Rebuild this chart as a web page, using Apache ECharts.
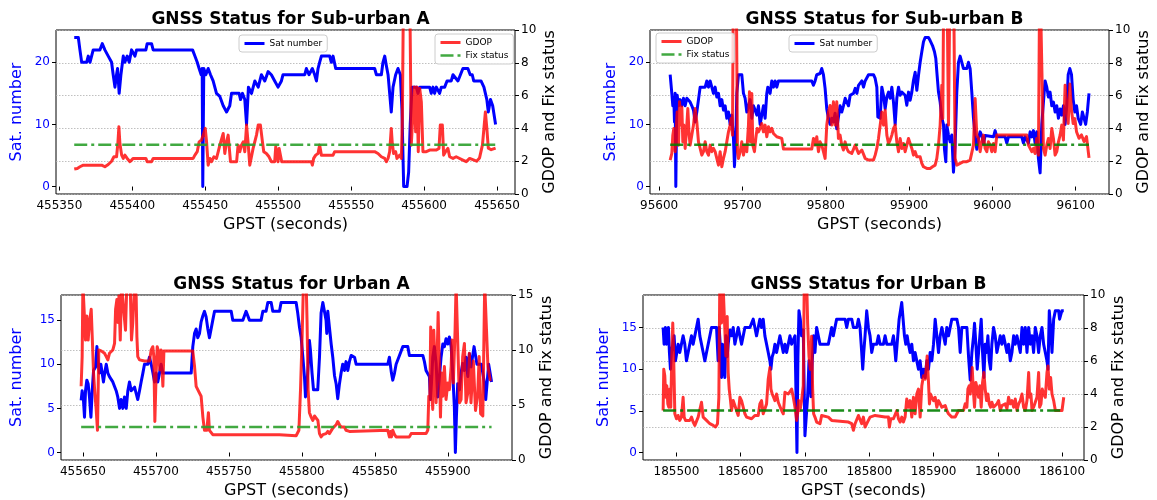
<!DOCTYPE html>
<html>
<head>
<meta charset="utf-8">
<script src="https://cdn.jsdelivr.net/npm/echarts@6/dist/echarts.min.js"></script>
<style>html,body{margin:0;padding:0;background:#fff}#c{width:1157px;height:500px}</style>
</head>
<body>
<div id="c"></div>
<script>
// ---------- DATA ----------
const titles = ['GNSS Status for Sub-urban A','GNSS Status for Sub-urban B','GNSS Status for Urban A','GNSS Status for Urban B'];

const suburbanA_xticks = [455350,455400,455450,455500,455550,455600,455650];
const suburbanB_xticks = [95600,95700,95800,95900,96000,96100];
const urbanA_xticks = [455650,455700,455750,455800,455850,455900];
const urbanB_xticks = [185500,185600,185700,185800,185900,186000,186100];
const suburban_satTicks = [0,10,20];
const urban_satTicks = [0,5,10,15];

const suburbanA_sat = [[455360.2,24],[455363,24],[455364.1,22],[455365.3,20],[455368.7,20],[455369.8,21],[455371,20],[455372.1,21],[455373.2,22],[455377.8,22],[455379.4,23],[455381.2,22],[455383.5,21],[455385.8,20],[455386.9,18],[455388.1,16],[455389.2,18],[455389.9,19],[455391,15],[455392.2,18],[455393.8,21],[455394.9,20],[455396.5,21],[455397.9,20],[455399.5,22],[455401.8,21],[455402.9,22],[455409.3,22],[455410.2,23],[455413.2,23],[455414.3,22],[455441.3,22],[455442.9,21],[455444.5,20],[455445.8,19],[455447.2,18],[455447.9,19],[455448.3,0],[455449,19],[455450.4,18],[455452,19],[455453.6,18],[455455.4,17],[455457.7,15],[455460,14.5],[455462.3,13],[455464.6,12],[455466.8,13],[455468,15],[455473.2,15],[455474.2,14],[455475.5,15],[455477.1,14],[455478.3,10],[455479.6,16],[455481.7,15],[455484,17],[455486.3,16],[455488.5,18],[455490.8,17],[455493.1,18.5],[455495.3,18],[455497.6,17],[455499.9,16],[455502.2,17],[455503.3,18],[455518.2,18],[455519.3,19],[455521.1,18],[455523.4,19],[455525,18],[455526.2,17],[455527.3,19],[455528.4,20],[455529.6,21],[455535.3,21],[455536.4,20],[455537.6,21],[455539.4,19],[455566.1,19],[455567.3,18],[455570.7,18],[455571.8,20],[455573,21],[455574.1,19.5],[455575.3,18],[455576.4,15],[455577.5,12],[455578.7,16],[455580.5,18],[455582.1,19],[455583.7,18],[455584.8,12.5],[455586,0],[455588.3,0],[455589.4,2.3],[455590.5,10],[455591.7,16],[455594.7,16],[455595.8,15],[455597,16],[455603.8,16],[455604.9,15],[455606.1,16],[455607.2,15],[455608.4,16],[455610.6,15],[455611.8,16],[455614.1,16],[455615.7,17],[455618.6,17],[455619.8,18],[455623.2,17],[455626.6,19],[455630,19],[455631.6,18],[455633,18],[455634,17],[455639,17],[455641,16],[455642,15],[455643,14],[455644,12],[455645.5,14],[455647,13],[455649,10]];

const suburbanA_gdop = [[455360.2,1.52],[455362.3,1.56],[455364.1,1.66],[455366.4,1.76],[455368.7,1.76],[455369.8,1.87],[455371,1.76],[455379,1.76],[455381.2,1.66],[455383.5,1.8],[455385.8,2.0],[455387.4,2.27],[455389.2,2.27],[455390.1,3.08],[455390.8,4.1],[455391.5,3.08],[455392.7,2.37],[455393.8,2.17],[455394.9,2.37],[455396.5,2.17],[455398.4,1.97],[455400.6,2.17],[455409.3,2.17],[455410.2,1.97],[455413.2,1.97],[455414.3,2.17],[455441.7,2.17],[455442.9,2.37],[455444.5,2.58],[455445.8,3.18],[455447.4,3.29],[455448.6,3.59],[455450,4.0],[455450.9,3.18],[455452,1.76],[455453.2,2.17],[455454.3,1.97],[455455.9,2.27],[455457.7,2.17],[455458.9,2.58],[455460,2.98],[455461.1,2.98],[455462.3,3.69],[455463.4,2.47],[455464.6,3.18],[455465.7,3.59],[455466.4,3.69],[455467.3,1.97],[455471.5,1.97],[455472.5,2.98],[455473.7,2.58],[455474.8,2.98],[455476,3.18],[455477.1,2.58],[455478.3,4.2],[455479.4,3.08],[455480.5,1.76],[455482.8,2.78],[455485.1,3.59],[455486.3,4.2],[455487.8,4.2],[455489.2,3.18],[455490.1,2.58],[455491.9,2.47],[455493.7,2.27],[455495.3,1.97],[455497.6,1.97],[455498.3,2.88],[455499.2,2.88],[455499.9,1.97],[455500.6,2.78],[455501.5,2.88],[455502.4,1.97],[455522.7,1.97],[455523.4,1.76],[455524.3,2.17],[455525.7,2.37],[455527.3,2.47],[455528.4,2.98],[455529.6,2.37],[455537.6,2.37],[455538.7,2.58],[455566.1,2.58],[455568.4,2.47],[455570.7,2.27],[455573,2.17],[455574.1,1.97],[455575.3,2.17],[455576.4,2.58],[455577.5,4.0],[455578.2,3.08],[455579.1,2.47],[455580.5,2.58],[455581.4,2.17],[455583.2,2.37],[455584.4,2.17],[455585.1,4.6],[455586,14],[455590,14],[455591.2,2.98],[455593.3,6.53],[455594.2,3.79],[455595.1,6.53],[455596,2.58],[455597,6.43],[455598.1,5.62],[455599.2,2.58],[455601.5,2.58],[455603.8,2.68],[455608.4,2.68],[455610.2,2.78],[455611.1,4.2],[455612.5,4.2],[455613.4,2.37],[455614.7,2.58],[455616.3,2.78],[455617.5,2.27],[455619.8,2.17],[455622,2.27],[455626.6,2.07],[455627.8,2.17],[455628.9,1.97],[455631.2,2.17],[455636,2.0],[455638,2.2],[455640,3.0],[455642,5.0],[455643,4.0],[455644,2.8],[455646,2.7],[455649,2.8]];

const suburbanA_fix = [[455360.2,3],[455649,3]];

const suburbanB_sat = [[95613.2,18],[95615.2,15],[95616.4,13],[95617.6,14],[95618.4,10.4],[95619.2,15],[95620,0],[95620.8,10],[95621.6,14.7],[95623.2,13],[95625.2,14],[95627.2,13],[95629.2,14.2],[95631.2,13],[95633.2,14.2],[95635.2,14.4],[95637.2,13.6],[95639.2,13],[95641.2,12.3],[95643.2,10.4],[95645.2,12],[95647.2,14],[95649.2,16],[95651.2,15.8],[95655.2,16],[95657.2,17],[95659.2,16],[95661.2,17],[95663.2,16],[95665.2,15],[95667.2,16],[95669.2,14.4],[95671.2,15],[95673.2,13],[95675.2,14],[95677.2,12.3],[95679.2,13],[95681.2,11],[95683.2,12],[95685.2,10],[95687.2,11.5],[95689.2,7.7],[95690.4,3.2],[95692,7.7],[95693.2,15],[95695.2,18],[95699.2,18],[95701.2,15],[95703.2,14.2],[95705.2,12],[95707.2,13],[95709.2,14],[95711.2,11],[95713.2,13],[95715.2,12.3],[95717.2,11.5],[95719.2,13],[95721.2,10],[95723.2,11.5],[95725.2,13],[95727.2,11],[95729.2,15],[95730.4,16],[95733.2,15],[95735.2,17],[95737.2,16],[95739.2,17],[95741.2,16],[95743.2,17],[95783.2,17],[95785.2,16.3],[95787.2,17],[95789.2,18],[95793.2,18.2],[95795.2,19],[95797.2,18],[95799.2,15.8],[95801.2,12.5],[95803.2,11],[95805.2,10],[95807.2,11],[95809.2,10.4],[95811.2,11.8],[95813.2,9.3],[95815.2,11.2],[95817.2,13],[95819.2,12],[95821.2,13],[95823.3,14.2],[95827.3,13],[95829.3,14.7],[95833.3,15],[95835.3,15.8],[95837.3,15],[95839.3,16.3],[95843.3,17],[95845.3,16],[95847.3,17],[95851.3,18],[95857.3,18],[95859.3,17.4],[95861.3,16],[95862.5,11.2],[95865.3,11],[95867.3,16],[95869.3,14.7],[95871.3,12.5],[95873.3,14.4],[95875.3,15.2],[95877.3,14.2],[95879.3,16],[95881.3,13.6],[95883.3,10],[95885.3,14.2],[95887.3,16],[95889.3,14.7],[95891.3,15.2],[95895.3,14.7],[95897.3,13.1],[95899.3,15.2],[95901.3,13.9],[95903.3,15.2],[95905.3,17.1],[95907.3,18.4],[95909.3,15.5],[95911.3,17.9],[95913.3,20],[95915.3,21.7],[95917.3,23.3],[95919.3,24],[95923.3,24],[95925.3,23.5],[95928.1,22.7],[95930.5,21.7],[95932.1,20.6],[95933.3,18.5],[95935.3,15.2],[95937.3,13.6],[95939.3,11],[95941.3,10],[95942.5,6],[95944.1,4],[95945.3,9.9],[95947.3,8.3],[95949.3,7.2],[95951.3,8.3],[95953.3,2.3],[95955.3,6.6],[95957.3,15.2],[95959.3,20],[95961.3,21],[95963.3,20],[95965.3,19],[95969.3,19],[95971.3,20],[95973.3,19],[95975.3,15.2],[95977.3,11],[95979.3,8.2],[95981.3,6],[95983.3,7.8],[95985.3,8.8],[95987.3,8.2],[95989.3,6.9],[95991.3,8.2],[96001.3,8],[96003.3,9],[96005.3,8],[96015.3,8],[96017.3,7],[96019.3,8],[96035.3,8],[96037.3,7],[96039.3,8],[96043.3,7],[96045.3,8.8],[96047.3,8],[96049.3,9],[96051.3,7],[96053.3,8.8],[96055.3,4.5],[96057.3,2.2],[96059.3,10],[96061.3,13.6],[96063.3,17],[96065.3,16],[96067.3,14.4],[96069.3,15.2],[96071.3,13],[96073.3,13.6],[96075.3,12],[96077.3,13],[96079.3,11],[96081.3,12.5],[96083.3,11.5],[96085.3,13],[96087.3,10],[96089.3,13],[96091,18],[96093,19],[96095,18],[96097,14],[96099,12],[96101,13],[96103,11],[96106,10],[96108,12],[96110,11],[96112,10],[96114,12],[96116,15]];

const suburbanB_gdop = [[95613.2,2.07],[95615.2,2.47],[95616.4,3.59],[95617.6,4.0],[95618.4,3.18],[95619.2,2.58],[95620.4,3.79],[95621.6,5.0],[95623.2,2.98],[95624.4,5.62],[95626,4.2],[95627.2,5.31],[95628.4,3.18],[95629.6,4.2],[95631.2,2.78],[95633.2,4.2],[95634.4,5.21],[95636,3.59],[95637.2,2.98],[95639.2,3.59],[95641.2,4.2],[95643.2,5.21],[95645.2,4.4],[95647.2,3.18],[95649.2,2.78],[95651.2,2.37],[95653.2,2.58],[95655.2,3.18],[95657.2,2.58],[95659.2,2.37],[95661.2,2.98],[95663.2,2.58],[95665.2,2.78],[95667.2,2.58],[95669.2,2.17],[95671.2,1.76],[95673.2,2.58],[95675.2,1.66],[95677.2,2.17],[95679.2,2.58],[95681.2,3.18],[95683.2,3.79],[95685.2,4.2],[95686.4,4.6],[95688,3.59],[95689.2,14],[95692.4,14],[95694,2.58],[95695.2,2.17],[95697.2,2.58],[95699.2,3.18],[95701.2,2.37],[95703.2,2.98],[95705.2,2.58],[95707.2,4.2],[95708.4,6.23],[95709.6,3.18],[95711.2,6.13],[95712.4,2.98],[95714.4,2.58],[95716,3.39],[95717.6,4.0],[95719.2,3.79],[95721.2,4.0],[95723.2,4.3],[95725.2,3.79],[95727.2,4.2],[95729.2,3.49],[95731.2,4.1],[95733.2,3.79],[95735.2,4.0],[95737.2,3.69],[95739.2,3.79],[95741.2,3.49],[95743.2,3.59],[95747.2,3.39],[95749.2,2.74],[95783.2,2.74],[95785.2,3.39],[95787.2,2.98],[95789.2,3.49],[95791.2,2.58],[95793.2,3.18],[95795.2,2.98],[95797.2,2.58],[95799.2,2.17],[95801.2,4.2],[95803.2,5.0],[95805.2,5.4],[95807.2,4.2],[95809.2,5.62],[95811.2,4.2],[95813.2,5.62],[95815.2,3.39],[95817.2,3.59],[95819.2,2.98],[95821.2,2.68],[95823.2,3.18],[95825.2,2.78],[95827.2,2.58],[95831.2,2.47],[95835.3,2.98],[95839.3,2.47],[95843.3,2.68],[95847.3,2.17],[95851.3,2.07],[95857.3,2.07],[95859.3,2.37],[95861.3,2.78],[95863.3,3.39],[95865.3,4.2],[95867.3,5.0],[95869.3,4.2],[95871.3,5.11],[95873.3,3.59],[95875.3,3.08],[95877.3,3.29],[95879.3,3.59],[95881.3,4.0],[95883.3,4.2],[95885.3,3.18],[95887.3,2.58],[95889.3,3.39],[95891.3,2.78],[95893.3,3.08],[95895.3,2.58],[95897.3,2.98],[95899.3,3.39],[95901.3,3.08],[95903.3,2.78],[95905.3,2.37],[95907.3,2.58],[95909.3,2.27],[95913.3,2.27],[95915.3,1.87],[95917.3,1.66],[95921.3,1.56],[95925.3,1.56],[95928.1,1.66],[95931.3,1.76],[95933.3,2.17],[95935.3,2.98],[95937.3,4.2],[95939.3,6.63],[95940.5,4.6],[95941.7,14],[95945.3,14],[95947.3,4.2],[95949.3,14],[95953.3,14],[95955.3,2.17],[95957.3,1.76],[95961.3,1.87],[95965.3,1.97],[95969.3,1.97],[95973.3,2.07],[95975.3,2.17],[95977.3,2.98],[95979.3,5.82],[95981.3,3.59],[95983.3,3.39],[95985.3,2.58],[95987.3,3.18],[95989.3,3.59],[95991.3,2.78],[95993.3,2.58],[95995.3,3.18],[95997.3,2.98],[95999.3,2.58],[96001.3,3.08],[96003.3,2.58],[96005.3,3.59],[96041.3,3.59],[96043.3,2.98],[96047.3,2.58],[96049.3,2.78],[96051.3,2.47],[96053.3,3.39],[96055.3,2.37],[96056.9,14],[96059.3,14],[96061.3,2.78],[96063.3,2.37],[96065.3,2.98],[96067.3,3.39],[96069.3,2.78],[96071.3,3.99],[96073.3,3.39],[96075.3,2.37],[96077.3,2.58],[96079.3,3.18],[96081.3,3.59],[96083.3,4.2],[96085.3,3.29],[96087.3,6.63],[96089.3,5.2],[96091,4.3],[96093,6.7],[96095,5.1],[96097,4.3],[96099,4.6],[96101,3.8],[96104,3.4],[96107,3.6],[96110,3.2],[96113,3.5],[96116,2.2]];

const suburbanB_fix = [[95613.2,3],[96116,3]];

const urbanA_sat = [[455648.8,5.9],[455649.5,7],[455650.4,5.9],[455651.1,4],[455651.8,7],[455652.7,8.2],[455653.6,7.8],[455654.5,6.3],[455655.5,4],[455656.4,7],[455657.3,9.3],[455658.7,9.7],[455659.6,12],[455660.5,10.1],[455661.4,9],[455662.3,10],[455663.2,9],[455664.1,8],[455665,9.1],[455666,10],[455667.1,9],[455668.2,8.6],[455669.4,8.8],[455670.5,8],[455671.7,8],[455672.8,7],[455673.9,6.3],[455675.1,5],[455676.2,6],[455677.4,5],[455678.5,6.3],[455679.7,5],[455680.8,7],[455681.9,8],[455683.1,7],[455684.2,7],[455685.4,7.4],[455686.5,6.7],[455687.6,6],[455688.8,7],[455689.9,8],[455691.1,9],[455692.2,10],[455694.5,10],[455695.6,10.8],[455696.8,10],[455697.9,9.1],[455699.1,8],[455700.2,9],[455701.3,8],[455702.5,9],[455703.6,10],[455704.8,9],[455724.2,9],[455725.3,12],[455726.5,13.5],[455727.6,14],[455728.7,13],[455729.9,13.5],[455731,14.8],[455732.2,15.5],[455733.3,16],[455734.4,15.4],[455735.6,14],[455736.7,13],[455737.9,13],[455739,15],[455740.2,16],[455751.6,16],[455752.7,15],[455759.6,15],[455760.7,15.5],[455761.8,16],[455763,16],[455764.1,15],[455772.1,15],[455773.3,16],[455775.5,16],[455776.7,17],[455779,17],[455780.1,16],[455784.7,16],[455785.8,17],[455796.1,17],[455797.2,15.8],[455798.4,14.2],[455799.5,13.1],[455800.7,10.8],[455801.8,8.6],[455802.5,6.3],[455803.4,7.4],[455804.3,9.7],[455805.2,12.7],[455805.9,11.6],[455807,9],[455808,7.1],[455810.9,7.1],[455812.1,10.8],[455813.2,15.8],[455814.4,17],[455815.7,17],[455816.6,15],[455817.1,13.5],[455817.8,16],[455818.9,14.2],[455820.1,12.3],[455821.2,10.8],[455822.4,8.7],[455823.5,7.8],[455824.6,6.1],[455825.8,7.8],[455826.9,9],[455828,10],[455829.2,9.3],[455830.3,10.3],[455831.5,9.3],[455832.6,10.3],[455833.8,11],[455834.9,11],[455836.1,10.8],[455837.2,10],[455858.9,10],[455860,10.8],[455860.7,11],[455861.4,9],[455862.3,8.2],[455863.5,9],[455864.6,10],[455866.9,11],[455868,11],[455869.2,12],[455872.6,12],[455873.7,11],[455882.9,11],[455884,10.3],[455885.1,9.3],[455886.3,9.3],[455887.4,8.6],[455888.1,6],[455888.8,7.8],[455889.7,10.8],[455890.8,12],[455892,10.1],[455893.1,6.3],[455894.3,8.6],[455895.4,10.8],[455896.6,12.3],[455897.7,12],[455898.8,12.9],[455900,12.3],[455901.1,13.1],[455902.3,12],[455903.4,9],[455904.5,5.2],[455905.2,0],[455905.9,4],[455906.8,7.8],[455908,7.1],[455909.1,9],[455910.2,10.1],[455911.4,9.3],[455912.5,10.8],[455913.7,8.6],[455914.8,11.2],[455915.9,9.7],[455918,12],[455920,10],[455923,10],[455925,8],[455926,6],[455927,8],[455928,10],[455929,9],[455930,8]];

const urbanA_gdop = [[455648.8,6.7],[455649.5,9.4],[455650,16],[455651.1,16],[455651.8,10.9],[455652.7,13.1],[455653.6,10.9],[455654.5,12.5],[455655.7,13.7],[455656.4,11.2],[455657.3,7.9],[455658.2,6.1],[455659.1,4.6],[455660,2.7],[455660.9,10],[455661.8,9.9],[455662.8,9.9],[455663.7,10],[455664.8,9.7],[455666,9.4],[455667.1,9.1],[455668.2,9.7],[455669.4,9.6],[455670.5,10],[455671.7,10.6],[455672.4,13.7],[455673.3,14.6],[455674,12.5],[455674.7,14.9],[455675.6,10.9],[455676.5,16],[455677.4,16],[455678.3,13.1],[455679.2,11.8],[455680.1,16],[455682.4,16],[455683.3,10.9],[455684.2,12.5],[455685.4,16],[455686.5,14.9],[455687,11.2],[455687.6,9.4],[455688.8,9.1],[455689.9,9.0],[455692.2,9.0],[455693.4,9.1],[455695.6,9.0],[455696.8,10],[455697.9,10.3],[455698.6,9.4],[455699.3,3.5],[455700.2,7.9],[455700.9,10.3],[455701.8,9.9],[455702.7,8.2],[455703.6,10],[455704.8,6.7],[455705.5,9.9],[455725.3,9.9],[455726.5,8.5],[455727.6,6.7],[455728.7,6.4],[455729.9,6.5],[455731,5.8],[455732.2,3.9],[455733.3,2.7],[455734.9,2.7],[455736,4.3],[455736.7,2.7],[455737.9,2.6],[455739,2.3],[455772.1,2.3],[455773.3,2.2],[455784.7,2.3],[455785.8,2.2],[455796.1,2.2],[455798,2.7],[455799.1,6.4],[455800.2,11.2],[455801.1,16],[455803,16],[455803.6,12.5],[455804.3,6.4],[455805.2,4.3],[455806.4,3.9],[455807.5,3.6],[455808.7,4.0],[455809.8,4.0],[455811,3.6],[455812.1,2.4],[455813.2,2.1],[455814.4,2.3],[455815.5,2.4],[455816.6,2.4],[455817.8,2.6],[455818.9,2.4],[455821.2,2.9],[455823.5,3.2],[455824.6,3.5],[455825.8,3.2],[455826.9,3.0],[455828,2.9],[455829.2,3.0],[455830.3,2.7],[455832.6,2.6],[455833.8,2.7],[455858.9,2.7],[455860,2.1],[455860.7,2.6],[455861.4,2.1],[455862.3,2.7],[455863.5,2.3],[455864.6,2.1],[455873.7,2.1],[455874.9,2.4],[455885.1,2.4],[455886.3,2.7],[455887,5.8],[455887.7,5.5],[455888.3,12.1],[455889,6.4],[455889.7,4.6],[455890.4,11.8],[455891.1,9.4],[455892,5.2],[455892.7,9.4],[455893.4,13.4],[455894.3,7.9],[455895,3.9],[455895.7,7.9],[455896.6,5.8],[455897.7,8.5],[455898.8,5.5],[455900,7.0],[455901.1,6.4],[455902.3,8.5],[455902.9,10.9],[455903.8,7.0],[455905,11.8],[455905.7,16],[455906.4,16],[455907.1,9.4],[455908,5.2],[455909.1,5.5],[455910.2,9.4],[455911.4,10.6],[455912.5,5.2],[455913.7,6.1],[455914.8,9.7],[455915.9,5.2],[455917.5,9],[455919,4.5],[455920.5,6],[455921.5,9.4],[455922.5,4.2],[455924,4],[455925.3,16],[455926.5,16],[455927.5,8.5],[455929,7.3],[455930,7.3]];

const urbanA_fix = [[455648.8,3],[455930,3]];

const urbanB_sat = [[185479.3,15],[185480.8,13],[185482.9,15],[185484.5,13],[185486,14],[185487.6,15],[185489.1,12],[185490.7,10],[185492.3,12],[185494.3,13],[185496.4,14],[185498.5,11],[185500.6,12],[185502.6,13],[185505.2,12],[185507.8,13],[185510.4,14],[185513,13],[185515.6,11],[185518.2,12],[185520.8,13],[185523.4,14],[185526,13],[185528.6,14],[185531.2,15],[185533.8,16],[185536.4,14],[185539,13],[185541.6,12],[185544.2,11],[185546.8,12],[185549.4,13],[185552,14],[185554.6,15],[185562.4,15],[185564.9,11],[185566.5,15],[185568.1,13],[185570.1,9],[185571.7,13],[185573.8,10],[185575.3,9],[185576.9,14],[185579,11.5],[185580.5,13],[185583.1,14.7],[185585.7,14],[185588.3,15],[185590.9,13],[185593.5,14],[185596.1,15],[185598.7,14],[185601.3,13],[185603.9,14],[185606.5,15],[185614.3,15],[185619.5,16],[185622,15],[185624.6,14],[185627.2,15],[185629.8,16],[185632.4,15],[185635,16],[185637.6,14],[185640.2,13],[185642.8,12],[185645.4,11],[185647,10],[185649,11.5],[185651.1,12],[185653.2,13],[185655.8,12],[185658.4,13],[185661,14],[185663.6,13],[185666.2,12],[185668.8,13],[185671.4,12],[185674,13],[185676.6,14],[185679.2,13],[185681.8,13],[185684.4,14],[185685.9,7.5],[185687.5,0],[185689,11.5],[185690.6,17],[185692.7,16],[185694.7,14],[185697.3,14.7],[185699.9,2],[185704.1,6.7],[185706.2,11],[185709.3,6.7],[185711.3,11],[185713.4,14],[185715.5,12],[185718.1,15],[185720.7,14],[185723.3,13],[185736.3,13],[185738.9,14],[185741.5,15],[185744,14],[185746.6,15],[185749.2,16],[185762.3,16],[185764.9,15],[185767.5,16],[185772.7,16],[185775.3,15],[185780.5,15],[185783.1,16],[185785.6,15],[185788.2,12],[185789.8,10],[185791.4,12],[185793.4,14],[185796,17],[185798.6,15],[185801.2,14],[185803.8,12],[185806.4,13],[185811.6,13],[185814.2,14],[185816.8,13],[185822,13],[185824.6,14],[185827.2,13],[185835,13],[185837.6,14],[185839.1,13],[185841.2,11],[185844.3,11],[185846.4,16],[185848.5,17],[185850.5,18],[185852.6,16],[185854.7,14],[185856.8,13],[185858.9,14],[185860.9,13],[185863.5,12],[185866.1,13],[185868.7,11],[185871.3,12],[185873.9,11],[185876.5,10],[185879.1,11],[185881.7,9],[185884.3,10],[185886.9,9],[185889.5,11],[185892.1,10],[185894.7,12],[185897.3,11],[185899.9,13],[185902.5,16],[185905.1,14],[185907.7,12],[185910.3,14],[185912.9,15],[185915.5,14],[185918.1,13],[185920.6,15],[185923.2,14],[185928.4,16],[185936.2,16],[185938.8,15],[185941.4,12],[185944,15],[185951.8,15],[185954.4,11.5],[185957,8.7],[185959.6,12],[185962.2,14],[185963.7,15.5],[185965.8,13],[185967.9,10],[185970,12],[185972,14],[185974.1,16],[185976.2,12],[185978.3,9],[185980.3,13],[185982.4,12],[185984.5,14],[185986.6,11],[185988.7,10],[185990.7,13],[185993.3,15],[185995.9,14],[185998.5,12],[186001.1,13],[186003.7,14],[186006.3,13],[186008.9,14],[186011.5,13],[186014.1,12],[186016.7,13],[186019.3,11],[186021.9,12],[186024.5,14],[186027.1,13],[186029.7,14],[186032.3,13],[186034.9,12],[186037.5,15],[186040.1,13],[186042.7,15],[186045.3,12],[186047.9,15],[186050.5,13],[186053.1,14],[186055.6,12],[186058.2,15],[186060.8,14],[186063.4,12],[186066,14],[186068.6,15],[186071.2,13],[186073.8,12],[186076.4,11],[186078,10],[186080,17],[186082.1,15],[186084.2,12],[186086.8,16],[186089.4,17],[186094.6,17],[186096,16],[186098,16],[186099.5,17],[186102.5,17]];

const urbanB_gdop = [[185479.3,3.0],[185480.3,5.5],[185481.9,5.1],[185483.4,3.8],[185485,4.5],[185486.6,3.4],[185488.1,3.2],[185489.7,4.3],[185491.2,3.2],[185492.8,6.3],[185494.3,8.3],[185495.9,5.9],[185497.5,2.8],[185500.1,2.5],[185502.6,2.7],[185505.2,2.4],[185507.8,2.6],[185510.4,3.8],[185512,2.6],[185514.1,2.4],[185517.2,2.5],[185520.8,2.4],[185523.4,2.6],[185526,2.3],[185528.6,2.1],[185531.2,2.2],[185533.8,2.6],[185536.4,2.5],[185539,3.5],[185541.6,2.6],[185544.2,2.5],[185546.8,2.4],[185549.4,2.3],[185552,2.2],[185557.2,2.1],[185560.8,2.0],[185563.9,2.2],[185566,3.8],[185567.5,11],[185570.1,8.3],[185572.2,11],[185575.3,11],[185576.9,6.3],[185579,8.7],[185580.5,5.3],[185582.1,4.3],[185583.6,3.8],[185585.7,3.0],[185588.3,3.6],[185590.9,3.6],[185593.5,3.0],[185596.1,2.7],[185598.7,3.8],[185601.3,3.6],[185603.9,3.6],[185606.5,2.8],[185609.1,2.6],[185611.7,2.6],[185616.9,2.5],[185619.5,2.6],[185622,2.7],[185627.2,2.7],[185629.8,3.4],[185632.4,3.6],[185635,2.8],[185637.6,2.7],[185640.2,3.4],[185642.8,4.9],[185645.4,5.6],[185647,4.3],[185649,4.0],[185651.1,3.8],[185653.2,3.6],[185655.8,4.0],[185658.4,3.5],[185661,3.6],[185663.6,3.0],[185666.2,2.8],[185668.8,4.1],[185671.4,4.1],[185674,4.0],[185676.6,4.1],[185679.2,4.3],[185681.8,3.8],[185684.4,3.2],[185687,2.4],[185688.5,2.8],[185690.1,3.6],[185692.2,3.0],[185694.7,3.6],[185697.3,4.5],[185698.9,11],[185702.5,11],[185704.1,8.3],[185706.2,6.3],[185708.2,5.5],[185710.3,7.5],[185711.9,4.3],[185713.4,2.8],[185715.5,2.6],[185718.1,2.3],[185720.7,2.4],[185723.3,2.2],[185725.9,2.7],[185736.3,2.6],[185738.9,2.5],[185741.5,2.4],[185744,2.3],[185767.5,2.3],[185772.7,2.2],[185775.3,1.8],[185777.9,2.2],[185783.1,2.7],[185785.6,2.7],[185788.2,2.2],[185790.8,2.6],[185793.4,2.0],[185796,2.1],[185798.6,2.4],[185801.2,2.6],[185809,2.7],[185824.6,2.6],[185829.8,2.6],[185831.3,2.0],[185833.4,2.5],[185837.6,2.5],[185840.2,2.6],[185842.8,3.0],[185845.4,2.5],[185848,2.3],[185850.5,2.6],[185853.1,2.3],[185855.7,2.6],[185858.3,3.7],[185860.9,3.2],[185863.5,3.6],[185866.1,2.6],[185868.7,3.8],[185871.3,2.8],[185873.9,4.0],[185876.5,4.3],[185879.1,2.6],[185881.7,4.5],[185884.3,5.1],[185886.9,4.9],[185888.5,5.5],[185890,6.3],[185892.1,4.7],[185893.6,3.4],[185895.2,4.0],[185897.3,3.8],[185899.9,3.6],[185902.5,3.8],[185905.1,3.2],[185907.7,3.6],[185910.3,3.4],[185912.9,3.2],[185915.5,3.3],[185918.1,3.3],[185920.6,3.0],[185923.2,2.8],[185925.8,2.7],[185928.4,2.6],[185933.6,2.6],[185936.2,2.7],[185938.8,3.0],[185946.6,3.0],[185949.2,3.4],[185951.8,3.2],[185953.4,4.3],[185955.4,4.5],[185957,4.0],[185958.6,4.7],[185960.1,5.6],[185961.7,4.3],[185963.7,3.2],[185965.8,4.7],[185967.9,4.3],[185970,3.8],[185972,4.5],[185974.1,3.2],[185976.2,4.7],[185978.3,5.3],[185980.3,4.3],[185982.4,3.6],[185984.5,4.0],[185986.6,3.4],[185988.7,3.2],[185990.7,3.5],[185993.3,3.2],[185995.9,3.2],[185998.5,3.4],[186001.1,3.6],[186003.7,3.0],[186006.3,3.3],[186008.9,3.2],[186011.5,3.4],[186014.1,3.1],[186016.7,3.8],[186019.3,3.4],[186021.9,3.6],[186024.5,3.2],[186027.1,3.7],[186029.7,3.0],[186032.3,3.4],[186034.9,3.6],[186037.5,4.0],[186040.1,3.2],[186042.7,3.0],[186045.3,3.6],[186047.9,5.3],[186049.4,3.8],[186051.5,4.0],[186053.1,3.0],[186055.6,3.2],[186058.2,3.3],[186060.8,3.8],[186063.4,5.3],[186065,3.2],[186067.1,3.4],[186069.1,4.3],[186071.2,4.0],[186073.8,3.8],[186076.4,5.3],[186078,5.7],[186080,4.3],[186082.1,5.0],[186084.2,4.0],[186086.8,3.6],[186089.4,3.0],[186094.6,3.0],[186099.8,3.0],[186101.5,3.0],[186102.5,3.8]];

const urbanB_fix = [[185479.3,3],[186102.5,3]];

// ---------- CHART ----------
const FONT = 'DejaVu Sans';
const panels = [
  {title:titles[0], grid:{left:56,top:30,width:459,height:164}, xMin:455347.7, xMax:455662.3, xTicks:suburbanA_xticks,
   yMin:-1.2, yMax:25.2, satTicks:suburban_satTicks, rMax:10, rStep:2, sat:suburbanA_sat, gdop:suburbanA_gdop, fix:suburbanA_fix,
   green:'rgba(44,160,44,0.9)', lGap:31, rGap:27, titleTop:6},
  {title:titles[1], grid:{left:650,top:30,width:459,height:164}, xMin:95589, xMax:96140, xTicks:suburbanB_xticks,
   yMin:-1.2, yMax:25.2, satTicks:suburban_satTicks, rMax:10, rStep:2, sat:suburbanB_sat, gdop:suburbanB_gdop, fix:suburbanB_fix,
   green:'rgba(0,128,0,0.85)', lGap:31, rGap:27, titleTop:6},
  {title:titles[2], grid:{left:61,top:295,width:451,height:165}, xMin:455635, xMax:455944, xTicks:urbanA_xticks,
   yMin:-0.85, yMax:17.85, satTicks:urban_satTicks, rMax:15, rStep:5, sat:urbanA_sat, gdop:urbanA_gdop, fix:urbanA_fix,
   green:'rgba(44,160,44,0.9)', lGap:36, rGap:27, titleTop:271},
  {title:titles[3], grid:{left:643,top:295,width:441,height:165}, xMin:185448, xMax:186134, xTicks:urbanB_xticks,
   yMin:-0.9, yMax:18.9, satTicks:urban_satTicks, rMax:10, rStep:2, sat:urbanB_sat, gdop:urbanB_gdop, fix:urbanB_fix,
   green:'rgba(0,128,0,0.9)', lGap:31, rGap:27, titleTop:271}
];

const option = {animation:false, backgroundColor:'#fff', title:[], grid:[], xAxis:[], yAxis:[], series:[], legend:[]};

panels.forEach((p, i) => {
  const g = p.grid;
  option.title.push({text:p.title, left:g.left + g.width/2, top:p.titleTop, textAlign:'center',
    textStyle:{fontFamily:FONT, fontWeight:'bold', fontSize:17, color:'#000'}});
  option.grid.push({left:g.left, top:g.top, width:g.width, height:g.height, show:true,
    borderColor:'#000', borderWidth:1, backgroundColor:'rgba(0,0,0,0)', containLabel:false});
  option.xAxis.push({type:'value', gridIndex:i, min:p.xMin, max:p.xMax,
    axisLine:{show:false},
    axisTick:{show:true, customValues:p.xTicks, length:4, lineStyle:{color:'#000', width:1}},
    axisLabel:{customValues:p.xTicks, formatter:(v)=>String(v), fontFamily:FONT, fontSize:12, color:'#000', margin:6},
    splitLine:{show:false},
    name:'GPST (seconds)', nameLocation:'middle', nameGap:23,
    nameTextStyle:{fontFamily:FONT, fontSize:16, color:'#000'}});
  option.yAxis.push({type:'value', gridIndex:i, position:'left', min:p.yMin, max:p.yMax,
    axisLine:{show:false},
    axisTick:{show:true, customValues:p.satTicks, length:4, lineStyle:{color:'#000', width:1}},
    axisLabel:{customValues:p.satTicks, fontFamily:FONT, fontSize:12, color:'#0000ff', margin:6},
    splitLine:{show:false},
    name:'Sat. number', nameLocation:'middle', nameRotate:90, nameGap:p.lGap,
    nameTextStyle:{fontFamily:FONT, fontSize:16, color:'#0000ff'}});
  option.yAxis.push({type:'value', gridIndex:i, position:'right', min:0, max:p.rMax, interval:p.rStep,
    axisLine:{show:false},
    axisTick:{show:true, length:4, lineStyle:{color:'#000', width:1}},
    axisLabel:{fontFamily:FONT, fontSize:12, color:'#000', margin:6},
    splitLine:{show:true, lineStyle:{color:'#b0b0b0', width:0.8, type:[1.5,1.5]}},
    name:'GDOP and Fix status', nameLocation:'middle', nameRotate:90, nameGap:p.rGap,
    nameTextStyle:{fontFamily:FONT, fontSize:16, color:'#000'}});
  option.series.push({type:'line', name:'Sat number', xAxisIndex:i, yAxisIndex:2*i, data:p.sat,
    symbol:'none', silent:true, z:2, lineStyle:{color:'#0000ff', width:3, join:'round'}, itemStyle:{color:'#0000ff'}});
  option.series.push({type:'line', name:'GDOP', xAxisIndex:i, yAxisIndex:2*i+1, data:p.gdop,
    symbol:'none', silent:true, z:3, clip:true, lineStyle:{color:'#ff0000', width:3, opacity:0.8, join:'round'}, itemStyle:{color:'rgba(255,0,0,0.8)'}});
  option.series.push({type:'line', name:'Fix status', xAxisIndex:i, yAxisIndex:2*i+1, data:p.fix,
    symbol:'none', silent:true, z:4, lineStyle:{color:p.green, width:2.5, type:[13,4,3,4]}, itemStyle:{color:p.green}});
});

const legendBase = {orient:'vertical', selectedMode:false, itemWidth:20, itemHeight:8, itemGap:4,
  itemStyle:{opacity:0, borderWidth:0},
  lineStyle:{width:'inherit', type:'inherit', opacity:'inherit'},
  textStyle:{fontFamily:FONT, fontSize:9, color:'#000'}, borderColor:'#cccccc', borderWidth:1, borderRadius:3,
  padding:[4,5,4,4], backgroundColor:'rgba(255,255,255,0.8)'};
option.legend = [
  Object.assign({}, legendBase, {data:['Sat number'], left:239, top:35}),
  Object.assign({}, legendBase, {data:['GDOP','Fix status'], left:435, top:34}),
  Object.assign({}, legendBase, {data:['GDOP','Fix status'], left:656, top:33}),
  Object.assign({}, legendBase, {data:['Sat number'], left:789, top:35})
];

const chart = echarts.init(document.getElementById('c'), null, {renderer:'canvas'});
chart.setOption(option);
</script>
</body>
</html>
